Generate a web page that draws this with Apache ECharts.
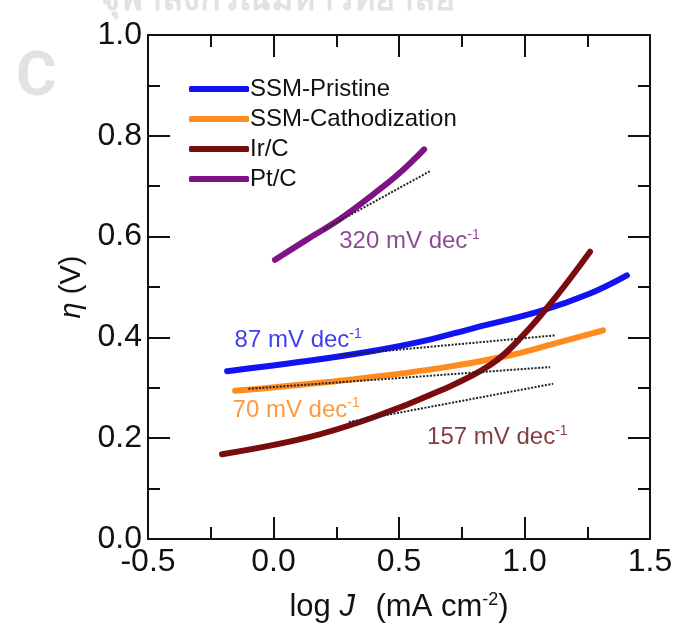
<!DOCTYPE html>
<html>
<head>
<meta charset="utf-8">
<script src="https://cdn.jsdelivr.net/npm/echarts@6/dist/echarts.min.js"></script>
<style>
html,body{margin:0;padding:0;background:#fff;}
#c{width:681px;height:628px;}
</style>
</head>
<body>
<div id="c"></div>
<script>
// ---- data ----
var seriesNames = ['SSM-Pristine', 'SSM-Cathodization', 'Ir/C', 'Pt/C'];
var seriesColors = ['#1212f2', '#ff8a1e', '#7a0c10', '#7e1286'];

var pristineX = [-0.185, 0.133, 0.396, 0.60, 0.795, 1.062, 1.261, 1.408];
var pristineY = [0.333, 0.353, 0.373, 0.393, 0.418, 0.452, 0.487, 0.523];

var cathodX = [-0.153, 0.265, 0.663, 0.930, 1.129, 1.313];
var cathodY = [0.294, 0.314, 0.339, 0.363, 0.389, 0.414];

var irX = [-0.205, 0.133, 0.396, 0.663, 0.863, 0.994, 1.129, 1.261];
var irY = [0.168, 0.201, 0.241, 0.294, 0.345, 0.404, 0.483, 0.570];

var ptX = [0.006, 0.133, 0.265, 0.40, 0.50, 0.600];
var ptY = [0.554, 0.594, 0.635, 0.685, 0.725, 0.773];

// tangent (Tafel fit) lines: [x0, y0, x1, y1]
var tangentPristine = [0.265, 0.365, 1.121, 0.404];
var tangentCathod = [-0.10, 0.298, 1.102, 0.341];
var tangentIr = [0.300, 0.232, 1.114, 0.308];
var tangentPt = [0.200, 0.614, 0.624, 0.730];

var slopeLabels = ['320 mV dec', '87 mV dec', '70 mV dec', '157 mV dec'];
var slopeLabelPos = [[0.262, 0.590], [-0.155, 0.394], [-0.163, 0.256], [0.612, 0.201]];
var slopeLabelColors = ['#6e1c78', '#0c0ce8', '#ff800c', '#640a0e'];

var xTicks = { min: -0.5, max: 1.5, interval: 0.5 };
var yTicks = { min: 0, max: 1.0, interval: 0.2 };

function pairs(xs, ys) { return xs.map(function (x, i) { return [x, ys[i]]; }); }
function seg(t) { return [[t[0], t[1]], [t[2], t[3]]]; }

var chart = echarts.init(document.getElementById('c'), null, { renderer: 'canvas' });

var FONT = 'Liberation Sans, Arial, sans-serif';
var tickFont = 32;

function axisCommon(show) {
  return {
    axisLine: { show: true, onZero: false, lineStyle: { color: '#111', width: 2 } },
    axisTick: { show: true, inside: true, length: 22, lineStyle: { color: '#111', width: 2 } },
    minorTick: { show: true, splitNumber: 2, length: 12, lineStyle: { color: '#111', width: 2 } },
    splitLine: { show: false },
    axisLabel: { show: show, fontSize: tickFont, color: '#111', fontFamily: FONT,
      formatter: function (v) { return Number(v).toFixed(1); }, showMinLabel: true, showMaxLabel: true }
  };
}

var xBottom = Object.assign({ type: 'value', position: 'bottom', min: xTicks.min, max: xTicks.max, interval: xTicks.interval,
  name: 'log {i|J} (mA cm{s|-2})', nameLocation: 'middle', nameGap: 52,
  nameTextStyle: { fontSize: 31, color: '#111', fontFamily: FONT,
    rich: { i: { fontSize: 31, fontStyle: 'italic', color: '#111', fontFamily: FONT, padding: [0, 12, 0, 0] },
            s: { fontSize: 18, color: '#111', fontFamily: FONT, padding: [0, 0, 15, 0] } } } }, axisCommon(true));
xBottom.axisLabel.margin = 7;
var xTop = Object.assign({ type: 'value', position: 'top', min: xTicks.min, max: xTicks.max, interval: xTicks.interval }, axisCommon(false));
var yLeft = Object.assign({ type: 'value', position: 'left', min: yTicks.min, max: yTicks.max, interval: yTicks.interval,
  name: '{i|η} (V)', nameLocation: 'middle', nameGap: 52, nameRotate: 90,
  nameTextStyle: { fontSize: 29, color: '#111', fontFamily: FONT,
    rich: { i: { fontSize: 29, fontStyle: 'italic', color: '#111', fontFamily: FONT } } } }, axisCommon(true));
yLeft.axisLabel.margin = 6;
var yRight = Object.assign({ type: 'value', position: 'right', min: yTicks.min, max: yTicks.max, interval: yTicks.interval }, axisCommon(false));

var series = [];
var curves = [pairs(pristineX, pristineY), pairs(cathodX, cathodY), pairs(irX, irY), pairs(ptX, ptY)];
curves.forEach(function (d, i) {
  series.push({ name: seriesNames[i], type: 'line', data: d, smooth: 0.4, showSymbol: false, symbol: 'none',
    lineStyle: { width: 6, color: seriesColors[i], cap: 'round' }, itemStyle: { color: seriesColors[i] }, z: 3 });
});
[tangentPt, tangentPristine, tangentCathod, tangentIr].forEach(function (t) {
  series.push({ type: 'line', data: seg(t), showSymbol: false, symbol: 'none', silent: true,
    lineStyle: { width: 2, type: [2, 1.5], color: '#222' }, z: 4 });
});
series.push({ type: 'scatter', symbolSize: 0, silent: true, z: 5,
  data: slopeLabelPos.map(function (p, i) {
    return { value: p, label: { show: true, position: 'right', distance: 0,
      formatter: '{a|' + slopeLabels[i] + '}{s|-1}',
      rich: { a: { fontSize: 24, color: slopeLabelColors[i], fontFamily: FONT },
              s: { fontSize: 14, color: slopeLabelColors[i], fontFamily: FONT, padding: [0, 0, 13, 0] } } } };
  })
});

chart.setOption({
  animation: false,
  backgroundColor: '#fff',
  grid: { left: 148, right: 31, top: 35, bottom: 86, containLabel: false },
  xAxis: [xBottom, xTop],
  yAxis: [yLeft, yRight],
  legend: { data: seriesNames, orient: 'vertical', left: 184, top: 72, itemGap: 6,
    icon: 'roundRect', itemWidth: 60, itemHeight: 6,
    textStyle: { fontSize: 24, color: '#111', fontFamily: FONT, padding: [0, 0, 0, -4] } },
  graphic: [
    { type: 'text', left: 100, top: -17, style: { text: 'จุฬาลงกรณ์มหาวิทยาลัย', fontSize: 34, fontWeight: 'bold', fill: '#e2e2e2', fontFamily: 'Noto Sans, sans-serif' }, z: -1 },
    { type: 'text', left: 16, top: 48, style: { text: 'C', fontSize: 62, fontWeight: 'bold', fill: '#e2e2e2', fontFamily: 'Liberation Sans Narrow, Roboto, sans-serif' }, z: -1 }
  ],
  series: series
});
</script>
</body>
</html>
